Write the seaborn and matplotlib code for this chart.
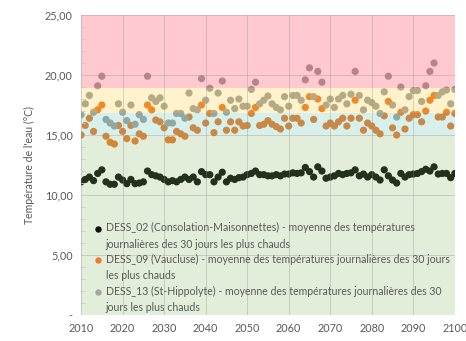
import numpy as np
import pandas as pd
import matplotlib
matplotlib.use("Agg")
import matplotlib.pyplot as plt
from matplotlib.lines import Line2D
from matplotlib.legend_handler import HandlerLine2D
from matplotlib.ticker import MultipleLocator
import seaborn as sns

years = list(range(2010, 2101))

dess_02 = [11.1, 11.3, 11.5, 11.2, 11.8, 12.1, 11.1, 10.9, 10.9, 11.5,
           11.25, 10.95, 11.3, 10.95, 11.0, 11.1, 12.0, 11.7, 11.6, 11.5,
           11.3, 11.1, 11.2, 11.1, 11.3, 11.5, 11.3, 11.5, 11.1, 11.95,
           11.7, 11.7, 11.1, 11.5, 11.9, 11.1, 11.4, 11.3, 11.45, 11.5,
           11.7, 11.8, 12.0, 11.7, 11.7, 11.6, 11.6, 11.7, 11.6, 11.75,
           11.75, 11.85, 11.8, 11.85, 12.3, 11.95, 11.5, 12.35, 12.0, 11.4,
           11.5, 11.6, 11.8, 11.7, 11.8, 11.85, 12.1, 11.6, 11.75, 11.5,
           11.7, 11.5, 11.25, 12.1, 11.6, 11.25, 11.0, 11.8, 11.5, 11.7,
           11.75, 11.8, 11.95, 12.15, 12.0, 12.35, 11.75, 11.8, 11.8, 11.45,
           11.8]

dess_09 = [15.0, 15.8, 16.4, 15.3, 17.1, 17.5, 14.9, 14.4, 14.25, 15.8,
           15.3, 14.7, 15.8, 14.5, 15.1, 14.9, 17.5, 17.1, 16.25, 16.1,
           15.6, 14.6, 14.6, 15.3, 15.1, 14.9, 16.5, 15.6, 15.4, 17.5,
           16.0, 16.8, 15.2, 16.1, 17.3, 15.4, 16.1, 15.4, 16.1, 15.75,
           15.8, 16.8, 17.3, 15.8, 15.9, 16.2, 15.9, 15.7, 15.5, 16.4,
           15.75, 16.4, 16.4, 16.0, 17.3, 18.2, 16.3, 18.0, 17.2, 15.75,
           16.0, 15.75, 16.1, 16.4, 15.75, 16.4, 17.9, 16.4, 15.4, 16.0,
           15.75, 15.4, 15.1, 16.6, 17.8, 15.6, 15.0, 16.9, 15.5, 16.4,
           16.7, 16.7, 16.1, 17.0, 17.9, 18.3, 16.5, 16.5, 16.9, 15.75,
           16.8]

dess_13 = [16.7, 17.6, 18.3, 16.9, 19.1, 19.9, 16.3, 16.0, 15.75, 17.6,
           16.9, 16.2, 17.5, 15.9, 16.7, 16.3, 19.9, 18.1, 17.8, 18.1,
           17.4, 16.0, 16.0, 16.8, 16.8, 16.4, 18.5, 17.2, 17.1, 19.7,
           17.9, 18.9, 16.8, 18.5, 19.5, 16.9, 17.9, 17.2, 18.0, 17.4,
           17.4, 18.8, 19.4, 17.6, 17.9, 18.25, 17.6, 17.3, 17.1, 18.2,
           17.4, 18.3, 18.3, 17.9, 19.6, 20.6, 18.2, 20.3, 19.4, 17.5,
           18.0, 17.3, 18.0, 18.3, 17.6, 18.4, 20.3, 18.3, 17.1, 17.9,
           17.7, 17.4, 16.8, 18.6, 19.9, 17.5, 16.5, 19.0, 17.1, 18.2,
           18.7, 18.7, 17.8, 19.1, 20.3, 21.0, 18.3, 18.6, 18.75, 17.6,
           18.8]

series_labels = [
    "DESS_02 (Consolation-Maisonnettes) - moyenne des températures\njournalières des 30 jours les plus chauds",
    "DESS_09 (Vaucluse) - moyenne des températures journalières des 30 jours\nles plus chauds",
    "DESS_13 (St-Hippolyte) - moyenne des températures journalières des 30\njours les plus chauds",
]
series_colors = ["#111111", "#ED7D31", "#A5A5A5"]

# temperature bands: (lower, upper, colour, alpha)
bands = [
    (0.0, 15.0, "#70AD47", 0.20),
    (15.0, 16.8, "#3FB8A0", 0.20),
    (16.8, 18.9, "#FFC000", 0.20),
    (18.9, 25.0, "#FF1A30", 0.23),
]

x_ticks = list(range(2010, 2101, 10))
y_ticks = [0, 5, 10, 15, 20, 25]
y_tick_labels = ["-", "5,00", "10,00", "15,00", "20,00", "25,00"]

df = pd.DataFrame({
    "year": years * 3,
    "temp": dess_02 + dess_09 + dess_13,
    "serie": [series_labels[0]] * len(years) + [series_labels[1]] * len(years)
             + [series_labels[2]] * len(years),
})


class FirstLineMarker(HandlerLine2D):
    """Legend marker aligned with the first line of a two-line label."""

    def create_artists(self, legend, orig_handle, xdescent, ydescent, width,
                       height, fontsize, trans):
        artists = super().create_artists(legend, orig_handle, xdescent,
                                         ydescent, width, height, fontsize,
                                         trans)
        for a in artists:
            a.set_ydata(np.asarray(a.get_ydata(), float) + 0.78 * fontsize)
        return artists


sns.set_theme(style="white")
plt.rcParams["font.family"] = ["Lato", "DejaVu Sans"]

fig = plt.figure(figsize=(4.66, 3.41), dpi=100)
ax = fig.add_axes([0.174, 0.076, 0.802, 0.880])

sns.scatterplot(data=df, x="year", y="temp", hue="serie", hue_order=series_labels,
                palette=series_colors, s=27, linewidth=0, legend=False, ax=ax,
                zorder=1)

for lo, hi, col, a in bands:
    ax.axhspan(lo, hi, color=col, alpha=a, lw=0, zorder=2)

ax.set_xlim(2010, 2100)
ax.set_ylim(0, 25)
ax.set_xticks(x_ticks)
ax.set_yticks(y_ticks)
ax.set_yticklabels(y_tick_labels)
ax.yaxis.set_minor_locator(MultipleLocator(1))

ax.set_axisbelow(False)
ax.grid(True, which="major", color="#8f8f8f", alpha=0.35, lw=0.7)
for s in ax.spines.values():
    s.set_visible(False)

ax.tick_params(axis="both", which="major", length=0, labelsize=7.8,
               labelcolor="#595959", pad=6)
ax.tick_params(axis="y", which="minor", left=True, length=3, width=0.6,
               color="#c8c8c8", direction="in")
ax.set_xlabel("")
ax.set_ylabel("Température de l'eau (°C)", fontsize=7.6, color="#595959",
              labelpad=7)

handles = [Line2D([], [], marker="o", ls="", color=c, markersize=3.6)
           for c in series_colors]
leg = ax.legend(handles, series_labels, loc="lower left",
                bbox_to_anchor=(0.012, -0.025), frameon=False, fontsize=7.6,
                labelcolor="#595959", handlelength=0.5, handletextpad=0.5,
                labelspacing=0.4,
                handler_map={Line2D: FirstLineMarker(numpoints=1)})
for t in leg.get_texts():
    t.set_linespacing(1.6)
leg.set_zorder(5)

fig.savefig("out.png", dpi=100)
